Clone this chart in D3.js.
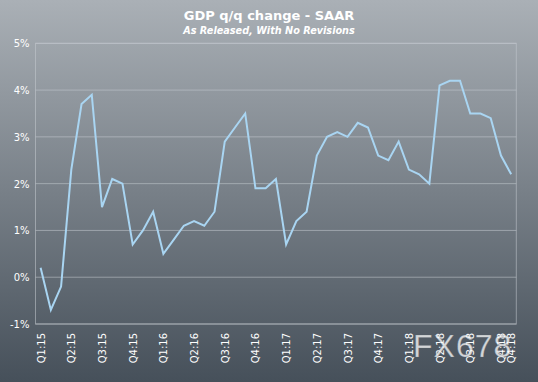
<!DOCTYPE html>
<html><head><meta charset="utf-8">
<script src="https://cdn.jsdelivr.net/npm/d3@7"></script>
<style>html,body{margin:0;padding:0;background:#48525b;}svg{display:block;}</style>
</head><body>
<script>
const quarters = ["Q1:15","Q2:15","Q3:15","Q4:15","Q1:16","Q2:16","Q3:16","Q4:16",
  "Q1:17","Q2:17","Q3:17","Q4:17","Q1:18","Q2:18","Q3:18","Q4:18"];
// advance, second, third estimates per quarter (Q4:18 has two releases)
const releases = [
  [0.2,-0.7,-0.2],[2.3,3.7,3.9],[1.5,2.1,2.0],[0.7,1.0,1.4],
  [0.5,0.8,1.1],[1.2,1.1,1.4],[2.9,3.2,3.5],[1.9,1.9,2.1],
  [0.7,1.2,1.4],[2.6,3.0,3.1],[3.0,3.3,3.2],[2.6,2.5,2.9],
  [2.3,2.2,2.0],[4.1,4.2,4.2],[3.5,3.5,3.4],[2.6,2.2]
];
const yTicks = [-1,0,1,2,3,4,5];
const titleText = "GDP q/q change - SAAR";
const subtitleText = "As Released, With No Revisions";
const watermark = "FX678";

const points = [];
releases.forEach((arr,qi)=>arr.forEach((v,j)=>points.push({id:qi+"-"+j, q:quarters[qi], first:j===0, v})));

const W=538,H=382;
const svg=d3.select("body").append("svg").attr("width",W).attr("height",H);
const defs=svg.append("defs");
const g=defs.append("linearGradient").attr("id","bg").attr("x1",0).attr("y1",0).attr("x2",0).attr("y2",1);
g.append("stop").attr("offset","0%").attr("stop-color","#aab0b6");
g.append("stop").attr("offset","100%").attr("stop-color","#46505a");
svg.append("rect").attr("width",W).attr("height",H).attr("fill","url(#bg)");

const L=35.5,R=516.3,T=43.3,B=324;
const x=d3.scalePoint().domain(points.map(p=>p.id)).range([L,R]).padding(0.5);
const y=d3.scaleLinear().domain([-1,5]).range([B,T]);

// gridlines
svg.append("g").selectAll("line").data(yTicks).join("line")
  .attr("x1",L).attr("x2",R).attr("y1",d=>y(d)).attr("y2",d=>y(d))
  .attr("stroke","#c4cacf").attr("stroke-opacity",0.55).attr("stroke-width",1);
svg.append("rect").attr("x",L).attr("y",T).attr("width",R-L).attr("height",B-T)
  .attr("fill","none").attr("stroke","#c4cacf").attr("stroke-opacity",0.55);

// y axis
const yAxis=d3.axisLeft(y).tickValues(yTicks).tickFormat(d=>d+"%").tickSize(0).tickPadding(6);
const ya=svg.append("g").attr("transform",`translate(${L},0)`).call(yAxis);
ya.select(".domain").remove();
ya.selectAll("text").attr("fill","#ffffff").attr("font-family","DejaVu Sans")
  .attr("font-size",10).attr("dy","0.35em");

// x axis
const lastId=points[points.length-1].id;
const xAxis=d3.axisBottom(x).tickSize(0)
  .tickValues(points.filter(p=>p.first||p.id===lastId).map(p=>p.id))
  .tickFormat(id=>points.find(p=>p.id===id).q);
const xa=svg.append("g").attr("transform",`translate(0,${B})`).call(xAxis);
xa.select(".domain").remove();
xa.selectAll("text").attr("fill","#ffffff").attr("font-family","DejaVu Sans").attr("font-size",10)
  .attr("transform","rotate(-90)").attr("text-anchor","end")
  .attr("x",-9).attr("y",0).attr("dy","0.35em");

// line
const line=d3.line().x(d=>x(d.id)).y(d=>y(d.v));
svg.append("path").datum(points).attr("d",line).attr("fill","none")
  .attr("stroke","#a9d5f2").attr("stroke-width",2).attr("stroke-linejoin","miter");

// titles
svg.append("text").attr("x",269).attr("y",20).attr("text-anchor","middle")
  .attr("font-family","DejaVu Sans").attr("font-weight","bold").attr("font-size",13)
  .attr("fill","#ffffff").text(titleText);
svg.append("text").attr("x",269).attr("y",34).attr("text-anchor","middle")
  .attr("font-family","DejaVu Sans").attr("font-weight","bold").attr("font-style","italic")
  .attr("font-size",9.7).attr("fill","#ffffff").text(subtitleText);

// watermark
svg.append("text").attr("x",413).attr("y",357)
  .attr("font-family","Liberation Sans").attr("font-size",32)
  .attr("fill","#ffffff").attr("fill-opacity",0.75).attr("stroke","#5b646c").attr("stroke-opacity",0.4)
  .attr("stroke-width",0.6).attr("letter-spacing",1).text(watermark);
</script>
</body></html>
